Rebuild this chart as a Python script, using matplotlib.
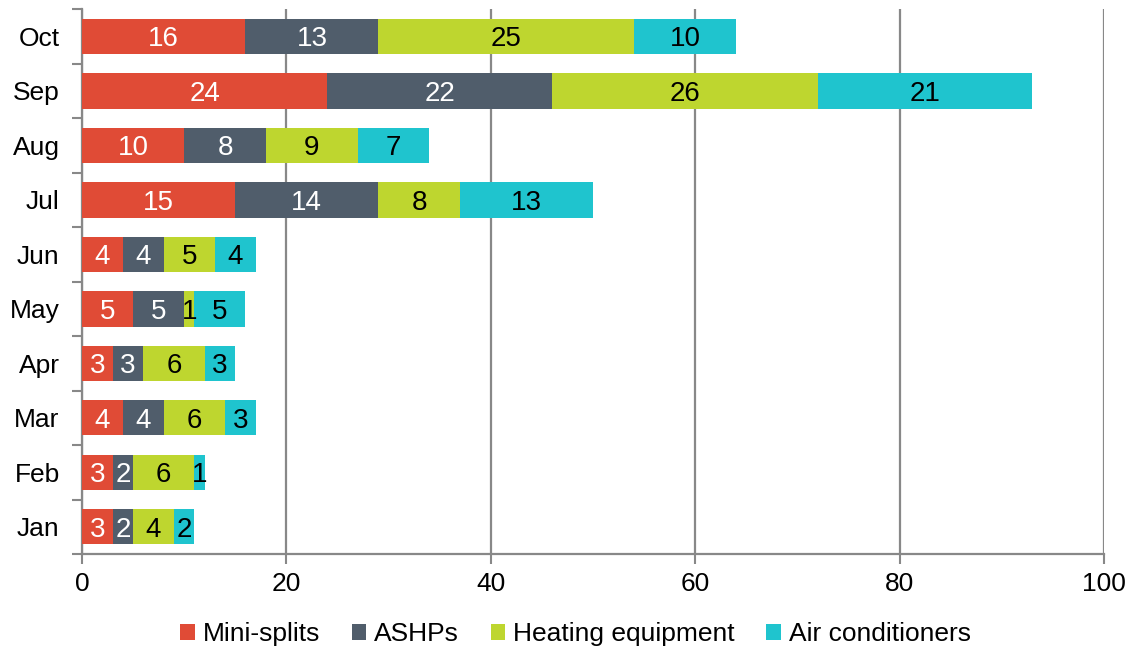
import matplotlib
matplotlib.use("Agg")
import matplotlib.pyplot as plt
import numpy as np

months = ["Jan", "Feb", "Mar", "Apr", "May", "Jun", "Jul", "Aug", "Sep", "Oct"]
series_names = ["Mini-splits", "ASHPs", "Heating equipment", "Air conditioners"]
mini_splits = [3, 3, 4, 3, 5, 4, 15, 10, 24, 16]
ashps = [2, 2, 4, 3, 5, 4, 14, 8, 22, 13]
heating = [4, 6, 6, 6, 1, 5, 8, 9, 26, 25]
air_cond = [2, 1, 3, 3, 5, 4, 13, 7, 21, 10]
x_ticks = [0, 20, 40, 60, 80, 100]

colors = ["#E04B36", "#505D6B", "#BED62F", "#1FC4CE"]
text_colors = ["white", "white", "black", "black"]

plt.rcParams["font.family"] = ["Liberation Sans", "DejaVu Sans"]

fig = plt.figure(figsize=(11.35, 6.47), dpi=100)
ax = fig.add_axes([0.0722, 0.1437, 0.9005, 0.8423])

y = np.arange(len(months))
left = np.zeros(len(months))
data = [mini_splits, ashps, heating, air_cond]
for vals, name, c, tc in zip(data, series_names, colors, text_colors):
    vals = np.array(vals, dtype=float)
    ax.barh(y, vals, left=left, height=0.65, color=c, label=name, zorder=3)
    for yi, l, v in zip(y, left, vals):
        ax.text(l + v / 2, yi, f"{int(v)}", ha="center", va="center_baseline",
                color=tc, fontsize=20, zorder=4)
    left += vals

ax.set_xlim(0, 100)
ax.set_ylim(-0.5, len(months) - 0.5)
ax.set_xticks(x_ticks)
ax.set_yticks(y)
ax.set_yticklabels(months)
ax.set_yticks(np.arange(-0.5, len(months), 1.0), minor=True)
ax.tick_params(axis="y", which="major", length=0, pad=16, labelsize=19)
ax.tick_params(axis="y", which="minor", length=7, width=1.5, color="#888888", direction="out")
ax.tick_params(axis="x", which="major", length=7, width=1.5, color="#888888", direction="out",
               labelsize=19, pad=6)
ax.grid(axis="x", color="#888888", linewidth=1.6, zorder=0)
ax.set_axisbelow(True)
for s in ["top", "right"]:
    ax.spines[s].set_visible(False)
for s in ["left", "bottom"]:
    ax.spines[s].set_color("#888888")
    ax.spines[s].set_linewidth(1.6)

fig.legend(loc="lower center", bbox_to_anchor=(0.507, -0.035), ncol=4, frameon=False,
           fontsize=19, handlelength=0.55, handleheight=0.55, handletextpad=0.3,
           columnspacing=1.2)

fig.savefig("out.png", dpi=100)
